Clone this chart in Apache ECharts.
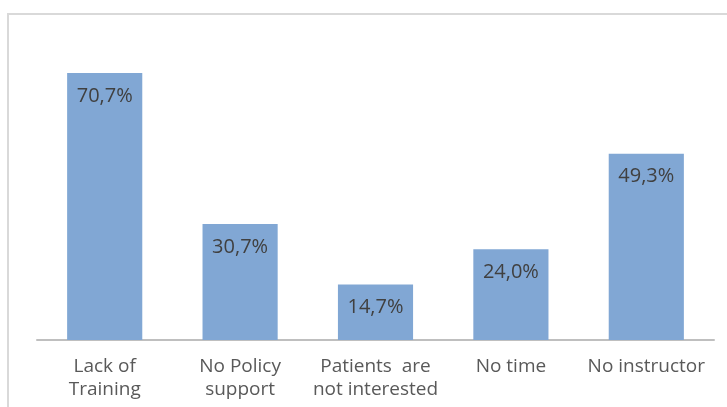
<!DOCTYPE html>
<html><head><meta charset="utf-8">
<script src="https://cdn.jsdelivr.net/npm/echarts@6/dist/echarts.min.js"></script>
<style>html,body{margin:0;padding:0;background:#fff;}#c{width:727px;height:407px;}</style>
</head><body><div id="c"></div>
<script>
var categories = ['Lack of\nTraining', 'No Policy\nsupport', 'Patients  are\nnot interested', 'No time', 'No instructor'];
var values = [70.7, 30.7, 14.7, 24.0, 49.3];
var chart = echarts.init(document.getElementById('c'), null, {renderer: 'canvas'});
chart.setOption({
  animation: false,
  graphic: [{type: 'rect', shape: {x: 8, y: 14, width: 800, height: 500}, style: {fill: 'none', stroke: '#d9d9d9', lineWidth: 2}, z: -1}],
  grid: {left: 37, right: 13, top: 37.8, bottom: 67, containLabel: false},
  xAxis: {type: 'category', data: categories,
    axisLine: {lineStyle: {color: '#bfbfbf', width: 2}},
    axisTick: {show: false},
    axisLabel: {color: '#595959', fontSize: 19, fontFamily: 'Open Sans', lineHeight: 23, margin: 15, interval: 0}
  },
  yAxis: {type: 'value', min: 0, max: 80, show: false, splitLine: {show: false}},
  series: [{type: 'bar', data: values, barWidth: '55.5%',
    itemStyle: {color: '#81a7d4'},
    label: {show: true, position: 'insideTop', distance: 13, color: '#404040', fontSize: 20, fontFamily: 'Open Sans',
      formatter: function(p){ return p.value.toFixed(1).replace('.', ',') + '%'; }}
  }]
});
</script></body></html>
